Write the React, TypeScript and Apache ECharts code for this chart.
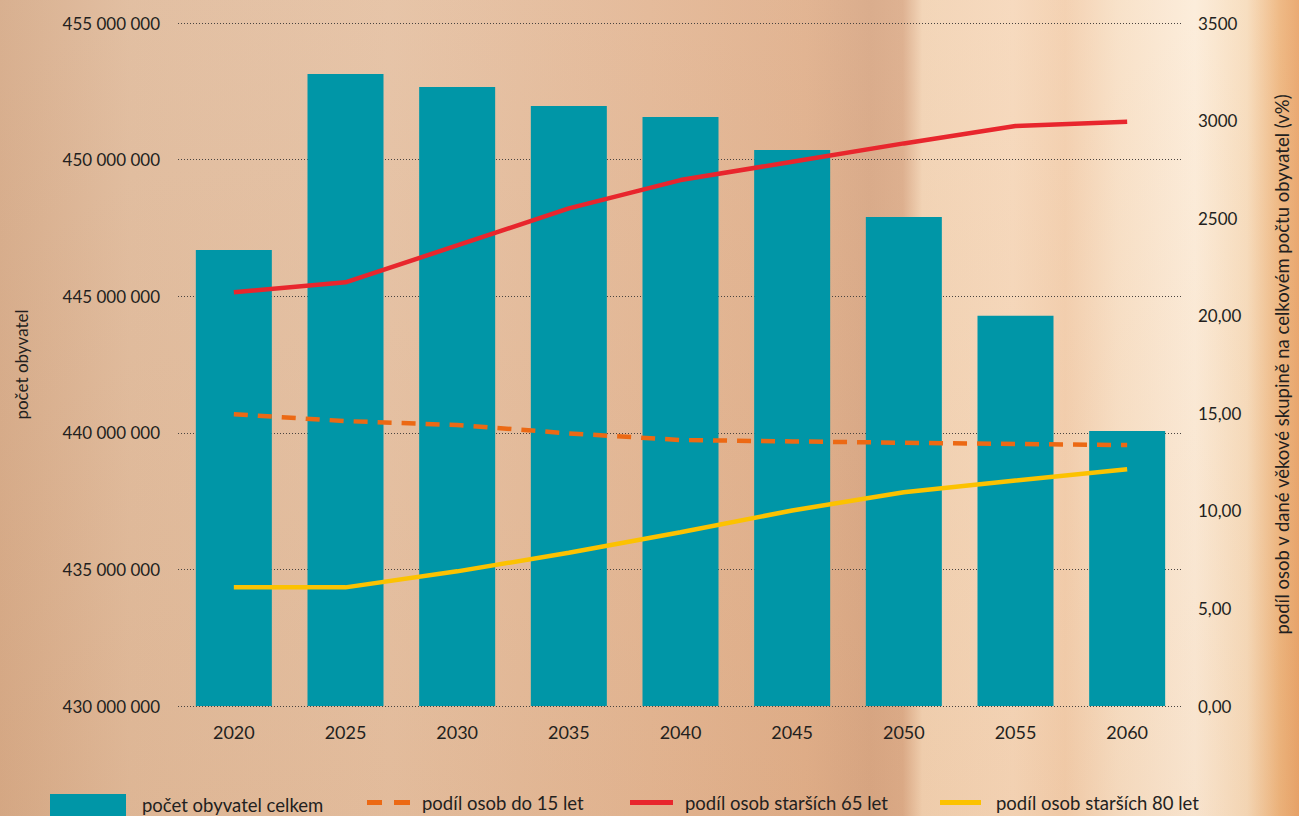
import React, { useEffect, useRef } from "react";
import * as echarts from "echarts";

const years = ["2020", "2025", "2030", "2035", "2040", "2045", "2050", "2055", "2060"];
const population = [446690000, 453130000, 452660000, 451960000, 451560000, 450350000, 447900000, 444280000, 440070000];
const under15 = [14.95, 14.6, 14.4, 13.97, 13.63, 13.56, 13.49, 13.43, 13.37];
const over65 = [21.2, 21.71, 23.6, 25.5, 26.95, 27.89, 28.83, 29.72, 29.94];
const over80 = [6.08, 6.08, 6.9, 7.85, 8.9, 10.02, 10.95, 11.55, 12.13];
const rightTickLabels = ["0,00", "5,00", "10,00", "15,00", "20,00", "2500", "3000", "3500"];

const names = {
  pop: "počet obyvatel celkem",
  u15: "podíl osob do 15 let",
  o65: "podíl osob starších 65 let",
  o80: "podíl osob starších 80 let",
};

const FONT = "Lato";
const TXT = "#231f20";

export default function App() {
  const ref = useRef<HTMLDivElement>(null);

  useEffect(() => {
    document.body.style.margin = "0";
    if (!ref.current) return;
    const chart = echarts.init(ref.current, undefined, { renderer: "svg" });

    const legendText = { fontFamily: FONT, fontSize: 18.5, color: TXT };
    const legendBase = {
      selectedMode: false,
      orient: "horizontal",
      padding: 0,
      itemStyle: { borderWidth: 0 },
    };

    chart.setOption({
      animation: false,
      backgroundColor: "transparent",
      textStyle: { fontFamily: FONT },
      grid: { left: 178, right: 109, top: 23, bottom: 110, containLabel: false },
      legend: [
        { ...legendBase, left: 50, top: 794, itemWidth: 76, itemHeight: 22,
          data: [{ name: names.pop, icon: "rect" }],
          textStyle: { ...legendText, padding: [0, 0, 0, 11] } },
        { ...legendBase, left: 367, top: 793, itemWidth: 43, itemHeight: 5,
          data: [{ name: names.u15, icon: "path://M0,0H15V5H0Z M27,0H43V5H27Z" }],
          textStyle: { ...legendText, padding: [0, 0, 0, 7] } },
        { ...legendBase, left: 630, top: 793, itemWidth: 43, itemHeight: 5,
          data: [{ name: names.o65, icon: "rect" }],
          textStyle: { ...legendText, padding: [0, 0, 0, 7] } },
        { ...legendBase, left: 940, top: 793, itemWidth: 41, itemHeight: 5,
          data: [{ name: names.o80, icon: "rect" }],
          textStyle: { ...legendText, padding: [0, 0, 0, 10] } },
      ],
      xAxis: {
        type: "category",
        data: years,
        boundaryGap: true,
        axisLine: { show: false },
        axisTick: { show: false },
        axisLabel: { fontFamily: FONT, fontSize: 18, color: TXT, margin: 17 },
      },
      yAxis: [
        {
          type: "value",
          min: 430000000,
          max: 455000000,
          interval: 5000000,
          name: "počet obyvatel",
          nameLocation: "middle",
          nameRotate: 90,
          nameGap: 148,
          nameTextStyle: { fontFamily: FONT, fontSize: 17, color: TXT },
          axisLine: { show: false },
          axisTick: { show: false },
          axisLabel: {
            fontFamily: FONT,
            fontSize: 17,
            color: TXT,
            margin: 18,
            formatter: (v: number) => String(v).replace(/\B(?=(\d{3})+(?!\d))/g, " "),
          },
          splitLine: { show: true, lineStyle: { color: "#4a4440", width: 1, type: [1, 2] } },
        },
        {
          type: "value",
          min: 0,
          max: 35,
          interval: 5,
          position: "right",
          name: "podíl osob v dané věkové skupině na celkovém počtu obyvatel (v%)",
          nameLocation: "middle",
          nameRotate: 90,
          nameGap: 89,
          nameTextStyle: { fontFamily: FONT, fontSize: 18.5, color: TXT },
          axisLine: { show: false },
          axisTick: { show: false },
          splitLine: { show: false },
          axisLabel: {
            fontFamily: FONT,
            fontSize: 17,
            color: TXT,
            margin: 15,
            formatter: (v: number) => rightTickLabels[Math.round(v / 5)] ?? "",
          },
        },
      ],
      series: [
        {
          name: names.pop,
          type: "bar",
          data: population,
          barWidth: 76,
          itemStyle: { color: "#0096a7" },
          z: 2,
        },
        {
          name: names.u15,
          type: "line",
          yAxisIndex: 1,
          data: under15,
          symbol: "none",
          lineStyle: { color: "#ec6914", width: 4.5, type: [14, 10] },
          itemStyle: { color: "#ec6914" },
          z: 3,
        },
        {
          name: names.o65,
          type: "line",
          yAxisIndex: 1,
          data: over65,
          symbol: "none",
          lineStyle: { color: "#e8262d", width: 4.5 },
          itemStyle: { color: "#e8262d" },
          z: 3,
        },
        {
          name: names.o80,
          type: "line",
          yAxisIndex: 1,
          data: over80,
          symbol: "none",
          lineStyle: { color: "#fcc200", width: 4.5 },
          itemStyle: { color: "#fcc200" },
          z: 3,
        },
      ],
    });

    return () => chart.dispose();
  }, []);

  const bg =
    "linear-gradient(to bottom, rgba(255,255,255,0.06), rgba(190,110,50,0.07)), " +
    "linear-gradient(to right, #d6ab89 0%, #e0bb9c 10%, #e5c1a3 30%, #e3b795 50%, #e0b08c 62%, #d8a886 67%, #dcad8b 69.5%, #f2d3b4 71%, #f6d8bb 78%, #f3cfae 82%, #f8e0c6 86%, #fcecd9 92%, #f7dcbc 96%, #eeb67f 98.5%, #e9a56b 100%)";

  return (
    <div
      style={{ position: "fixed", left: 0, top: 0, width: 1299, height: 816, background: bg, overflow: "hidden" }}
    >
      <div ref={ref} style={{ width: 1299, height: 816 }} />
    </div>
  );
}
